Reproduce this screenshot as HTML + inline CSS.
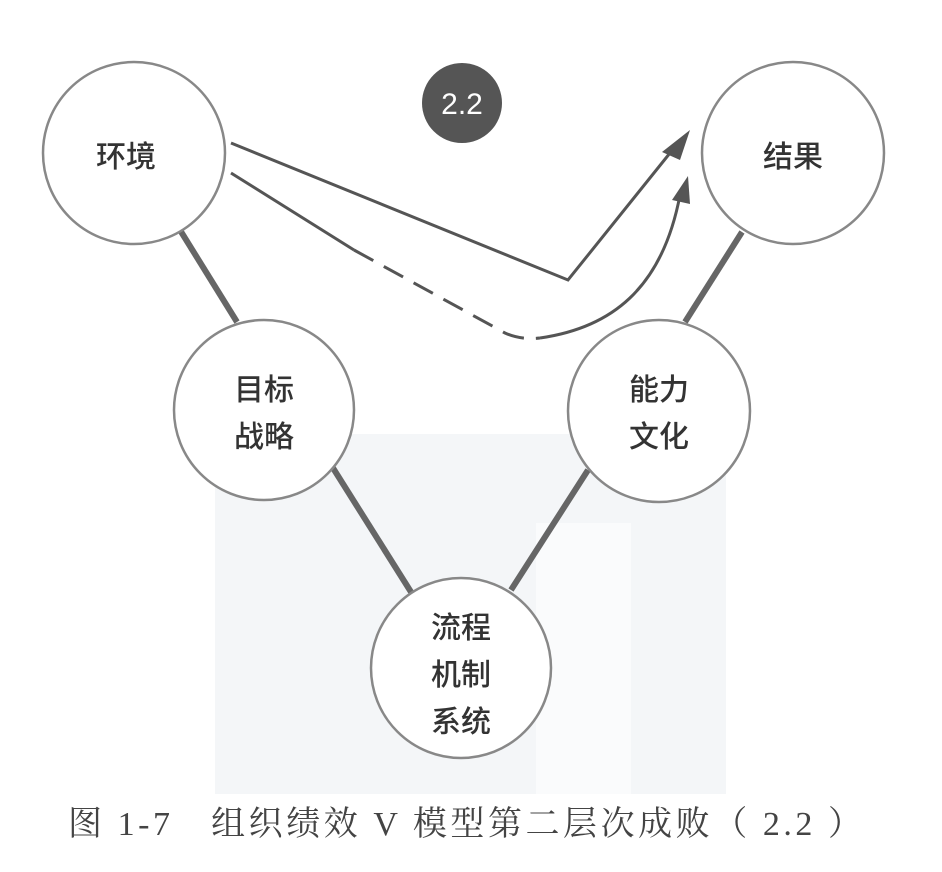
<!DOCTYPE html>
<html><head><meta charset="utf-8"><style>
html,body{margin:0;padding:0;background:#fff;}
svg{display:block;}
.t{font-family:"Liberation Sans","Noto Sans CJK SC",sans-serif;font-size:30px;fill:#333;text-anchor:middle;font-weight:500;}
</style></head><body>
<svg width="942" height="872" viewBox="0 0 942 872" xmlns="http://www.w3.org/2000/svg">
<rect x="215" y="434" width="511" height="360" fill="#f4f6f8"/>
<rect x="536" y="523" width="95" height="271" fill="#fafbfc"/>
<g stroke="#666" stroke-width="6" stroke-linecap="butt">
<line x1="180" y1="230" x2="237" y2="322"/>
<line x1="742" y1="232" x2="685" y2="322"/>
<line x1="333" y1="468" x2="411" y2="592"/>
<line x1="588" y1="470" x2="511" y2="590"/>
</g>
<g fill="#fff" stroke="#888" stroke-width="2.5">
<circle cx="134" cy="153" r="91"/>
<circle cx="793" cy="153" r="91"/>
<circle cx="264" cy="410" r="90"/>
<circle cx="659" cy="411" r="91"/>
<circle cx="461" cy="668" r="90"/>
</g>
<circle cx="462" cy="103" r="40" fill="#555"/>
<text x="462" y="114" font-family="Liberation Sans,sans-serif" font-size="30" fill="#fff" text-anchor="middle">2.2</text>
<g fill="none" stroke="#555" stroke-width="3">
<polyline points="231,143 568,280 674,148"/>
<line x1="231" y1="173" x2="354" y2="250"/>
<path d="M354,250 L505,333 Q520,340 540,338" stroke-dasharray="22,12"/>
<path d="M540,338 C610,328 662,290 680,195"/>
</g>
<polygon points="690,130 662,152 680,160" fill="#555"/>
<polygon points="688,176 672,200 690,204" fill="#555"/>
<text class="t" x="126" y="167">环境</text>
<text class="t" x="793" y="167">结果</text>
<text class="t" x="264" y="400">目标</text>
<text class="t" x="264" y="447">战略</text>
<text class="t" x="659" y="400">能力</text>
<text class="t" x="659" y="447">文化</text>
<text class="t" x="461" y="638">流程</text>
<text class="t" x="461" y="685">机制</text>
<text class="t" x="461" y="732">系统</text>
<text x="68" y="835" font-family="Liberation Serif,'Noto Serif CJK SC',serif" font-size="34" fill="#444" textLength="794" lengthAdjust="spacing">图 1-7　组织绩效 V 模型第二层次成败（ 2.2 ）</text>
</svg>
</body></html>
